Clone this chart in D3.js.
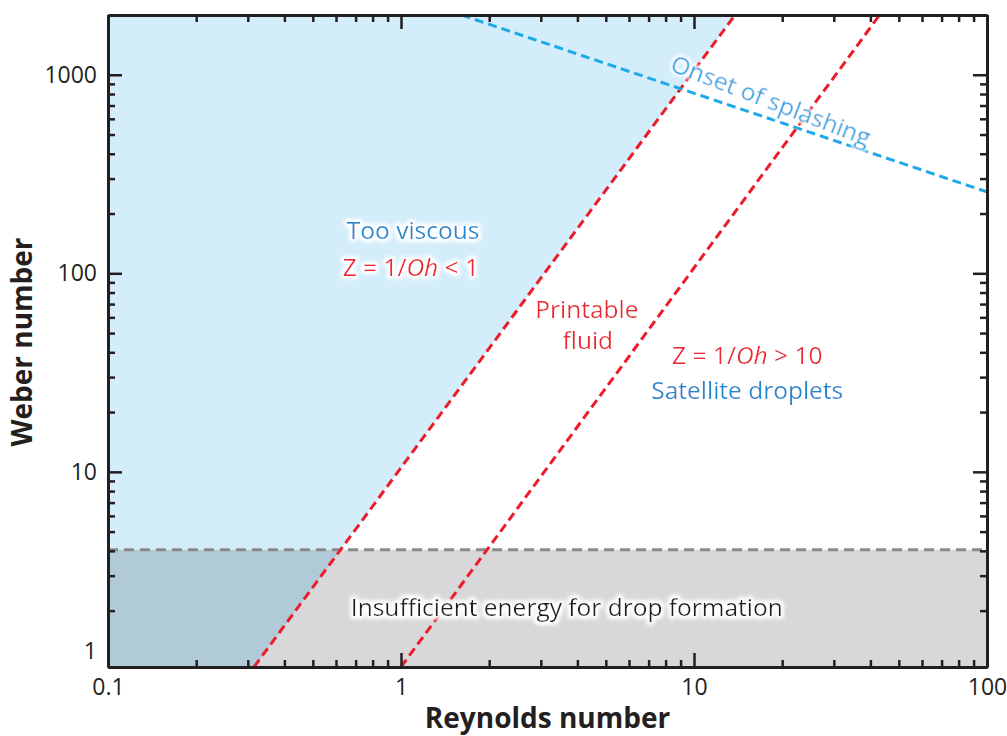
<!DOCTYPE html>
<html>
<head>
<meta charset="utf-8">
<script src="https://cdn.jsdelivr.net/npm/d3@7"></script>
<style>
  body { margin: 0; background: #fff; }
  text { font-family: "Open Sans", "Noto Sans", sans-serif; }
</style>
</head>
<body>
<script>
// data
var reDomain = [0.1, 100],
    weDomain = [1.04, 2000];
var reTicks = [0.1, 1, 10, 100],
    weTicks = [10, 100, 1000];
var zLow = [[0.315, 1.04], [13.8, 2000]];     // Z = 1/Oh = 1 boundary
var zHigh = [[1.0, 1.04], [43, 2000]];        // Z = 1/Oh = 10 boundary
var splash = [[1.61, 2000], [100, 257]];      // onset of splashing
var weMin = 4.05;                             // insufficient energy threshold

var width = 1007,
    height = 736,
    margin = {top: 15, right: 20, bottom: 69, left: 108};
var w = width - margin.left - margin.right,
    h = height - margin.top - margin.bottom;

var x = d3.scaleLog().domain(reDomain).range([0, w]),
    y = d3.scaleLog().domain(weDomain).range([h, 0]);

var svg = d3.select("body").append("svg")
    .attr("width", width)
    .attr("height", height);

var defs = svg.append("defs");
defs.append("clipPath").attr("id", "plot")
  .append("rect").attr("width", w).attr("height", h);
defs.append("clipPath").attr("id", "low")
  .append("rect").attr("y", y(weMin)).attr("width", w).attr("height", h - y(weMin));

var glow = defs.append("filter").attr("id", "glow")
    .attr("x", "-20%").attr("y", "-40%").attr("width", "140%").attr("height", "180%");
glow.append("feMorphology").attr("in", "SourceAlpha").attr("operator", "dilate").attr("radius", 1.5).attr("result", "d");
glow.append("feGaussianBlur").attr("in", "d").attr("stdDeviation", 2).attr("result", "b");
glow.append("feFlood").attr("flood-color", "#fff").attr("result", "f");
glow.append("feComposite").attr("in", "f").attr("in2", "b").attr("operator", "in").attr("result", "g");
var merge = glow.append("feMerge");
merge.append("feMergeNode").attr("in", "g");
merge.append("feMergeNode").attr("in", "g");
merge.append("feMergeNode").attr("in", "SourceGraphic");

var g = svg.append("g")
    .attr("transform", "translate(" + margin.left + "," + margin.top + ")");

var plot = g.append("g").attr("clip-path", "url(#plot)");

// too viscous region: left of the Z = 1 line
var viscous = [[reDomain[0], weDomain[1]], zLow[1], zLow[0], [reDomain[0], weDomain[0]]];
var area = d3.line().x(function(d) { return x(d[0]); }).y(function(d) { return y(d[1]); });

plot.append("path")
    .attr("d", area(viscous) + "Z")
    .attr("fill", "#d3edfb");

plot.append("rect")
    .attr("y", y(weMin))
    .attr("width", w)
    .attr("height", h - y(weMin))
    .attr("fill", "#d8d8da");

plot.append("path")
    .attr("clip-path", "url(#low)")
    .attr("d", area(viscous) + "Z")
    .attr("fill", "#b0cbd7");

plot.append("line")
    .attr("x1", 0).attr("x2", w)
    .attr("y1", y(weMin)).attr("y2", y(weMin))
    .attr("stroke", "#8a8a8c")
    .attr("stroke-width", 3)
    .attr("stroke-dasharray", "10,6");

plot.selectAll(".zline")
    .data([zLow, zHigh])
  .enter().append("path")
    .attr("class", "zline")
    .attr("d", area)
    .attr("fill", "none")
    .attr("stroke", "#ec1c2a")
    .attr("stroke-width", 3)
    .attr("stroke-dasharray", "9,5");

plot.append("path")
    .attr("d", area(splash))
    .attr("fill", "none")
    .attr("stroke", "#1eaae6")
    .attr("stroke-width", 3)
    .attr("stroke-dasharray", "9,5");

// labels
var blue = "#1f88cf", red = "#ec2530";

function label(re, we, color, parts) {
  var t = g.append("text")
      .attr("x", x(re))
      .attr("y", y(we))
      .attr("dy", "0.35em")
      .attr("text-anchor", "middle")
      .attr("font-size", 24.5)
      .attr("fill", color)
      .attr("filter", "url(#glow)");
  parts.forEach(function(p) {
    t.append("tspan")
      .attr("font-style", p[1] ? "italic" : null)
      .text(p[0]);
  });
  return t;
}

label(1.10, 164, blue, [["Too viscous"]]);
label(1.08, 107, red, [["Z = 1/"], ["Oh", true], [" < 1"]]);
label(4.31, 66, red, [["Printable"]]);
label(4.34, 45.7, red, [["fluid"]]);
label(15.2, 38.8, red, [["Z = 1/"], ["Oh", true], [" > 10"]]);
label(15.2, 25.6, blue, [["Satellite droplets"]]);
label(3.68, 2.07, "#231f20", [["Insufficient energy for drop formation"]]);

label(18.3, 740, "#1ea5e3", [["Onset of splashing"]])
    .attr("transform", "rotate(21," + x(18.3) + "," + y(740) + ")");

// axes: ticks on all four sides, pointing inwards
var reMinor = x.ticks().filter(function(d) { return reTicks.indexOf(d) < 0; }),
    weMinor = y.ticks().filter(function(d) { return d > weDomain[0] && d < weDomain[1] && weTicks.indexOf(d) < 0; });

function frame(sel) {
  sel.selectAll(".domain").attr("stroke", "#231f20").attr("stroke-width", 3);
  sel.selectAll(".tick line").attr("stroke", "#231f20").attr("stroke-width", 2.5);
  sel.selectAll(".tick text")
      .attr("fill", "#231f20")
      .attr("font-size", 23)
      .attr("font-family", "'Open Sans', sans-serif");
}

g.append("g").attr("transform", "translate(0," + h + ")")
    .call(d3.axisBottom(x).tickValues(reMinor).tickSize(-7).tickSizeOuter(0).tickFormat(""))
    .call(frame);
g.append("g").attr("transform", "translate(0," + h + ")")
    .call(d3.axisBottom(x).tickValues(reTicks).tickSize(-14).tickSizeOuter(0).tickPadding(12)
      .tickFormat(function(d) { return d < 1 ? "0.1" : d3.format("d")(d); }))
    .call(frame);

g.append("g")
    .call(d3.axisTop(x).tickValues(reMinor).tickSize(-7).tickSizeOuter(0).tickFormat(""))
    .call(frame);
g.append("g")
    .call(d3.axisTop(x).tickValues(reTicks).tickSize(-14).tickSizeOuter(0).tickFormat(""))
    .call(frame);

g.append("g")
    .call(d3.axisLeft(y).tickValues(weMinor).tickSize(-7).tickSizeOuter(0).tickFormat(""))
    .call(frame);
g.append("g")
    .call(d3.axisLeft(y).tickValues(weTicks).tickSize(-14).tickSizeOuter(0).tickPadding(11)
      .tickFormat(d3.format("d")))
    .call(frame);

g.append("g").attr("transform", "translate(" + w + ",0)")
    .call(d3.axisRight(y).tickValues(weMinor).tickSize(-7).tickSizeOuter(0).tickFormat(""))
    .call(frame);
g.append("g").attr("transform", "translate(" + w + ",0)")
    .call(d3.axisRight(y).tickValues(weTicks).tickSize(-14).tickSizeOuter(0).tickFormat(""))
    .call(frame);

// the "1" label sits just above the bottom edge
g.append("text")
    .attr("x", -11)
    .attr("y", y(1) - 19)
    .attr("dy", "0.32em")
    .attr("text-anchor", "end")
    .attr("font-size", 23)
    .attr("fill", "#231f20")
    .text("1");

g.append("text")
    .attr("x", w / 2)
    .attr("y", h + 61)
    .attr("text-anchor", "middle")
    .attr("font-size", 28)
    .attr("font-weight", "bold")
    .attr("fill", "#231f20")
    .text("Reynolds number");

g.append("text")
    .attr("transform", "translate(" + (-76) + "," + (342 - margin.top) + ")rotate(-90)")
    .attr("text-anchor", "middle")
    .attr("font-size", 28)
    .attr("font-weight", "bold")
    .attr("fill", "#231f20")
    .text("Weber number");
</script>
</body>
</html>
